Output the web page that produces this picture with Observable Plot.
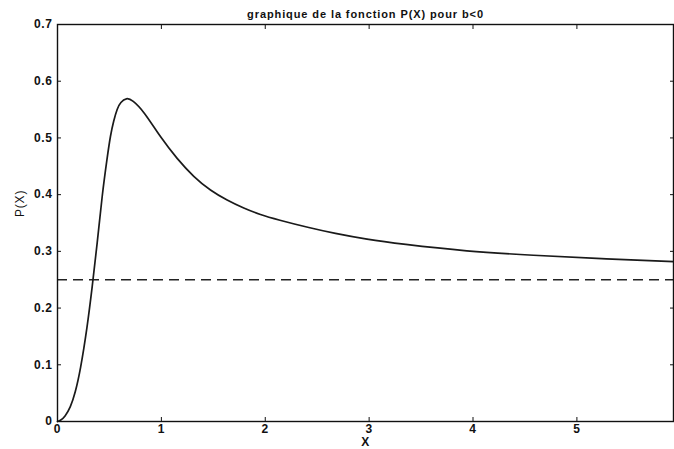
<!DOCTYPE html>
<html>
<head>
<meta charset="utf-8">
<script src="https://cdn.jsdelivr.net/npm/d3@7"></script>
<script src="https://cdn.jsdelivr.net/npm/@observablehq/plot@0.6"></script>
<style>
  html, body { margin: 0; padding: 0; background: #fff; }
  #chart svg { display: block; }
</style>
</head>
<body>
<div id="chart"></div>
<script>
const titleText = "graphique de la fonction P(X) pour b<0";
const xLabel = "X";
const yLabel = "P(X)";
const xTicks = [0, 1, 2, 3, 4, 5];
const yTicks = [0, 0.1, 0.2, 0.3, 0.4, 0.5, 0.6, 0.7];
const xValues = [0, 0.03, 0.07, 0.125, 0.17, 0.22, 0.286, 0.334, 0.382, 0.43, 0.478, 0.51, 0.54, 0.575, 0.606, 0.664, 0.72, 0.831, 0.991, 1.152, 1.312, 1.473, 1.633, 1.793, 1.954, 2.115, 2.435, 2.66, 2.98, 3.30, 3.94, 4.58, 5.23, 5.93];
const pValues = [0, 0.002, 0.008, 0.025, 0.05, 0.09, 0.166, 0.237, 0.313, 0.40, 0.465, 0.505, 0.530, 0.552, 0.563, 0.571, 0.567, 0.547, 0.501, 0.463, 0.431, 0.407, 0.390, 0.376, 0.3645, 0.356, 0.341, 0.332, 0.321, 0.313, 0.300, 0.293, 0.287, 0.282];
const limitValue = 0.25;

const curve = xValues.map((x, i) => ({x, p: pValues[i]}));
const font = "'Liberation Sans', Arial, Helvetica, sans-serif";

const chart = Plot.plot({
  width: 674,
  height: 449,
  marginLeft: 57,
  marginRight: 1,
  marginTop: 24,
  marginBottom: 28,
  style: {fontFamily: font, fontSize: "12px", color: "#111", background: "#fff"},
  x: {domain: [0, 5.93]},
  y: {domain: [0, 0.7]},
  marks: [
    Plot.ruleY([limitValue], {stroke: "#222", strokeWidth: 1.5, strokeDasharray: "10,6"}),
    Plot.line(curve, {x: "x", y: "p", stroke: "#1a1a1a", strokeWidth: 1.7, curve: "basis"}),
    Plot.axisX({ticks: xTicks, tickSize: -4, tickPadding: 7, tickFormat: d3.format("d"), fontWeight: "bold", fontSize: 12, label: null}),
    Plot.axisX({anchor: "top", ticks: xTicks, tickSize: -4, tickFormat: () => "", label: null}),
    Plot.axisY({ticks: yTicks, tickSize: -4, tickPadding: 9, tickFormat: d => d === 0 ? "0" : d3.format(".1f")(d), fontWeight: "bold", fontSize: 12, label: null}),
    Plot.axisY({anchor: "right", ticks: yTicks, tickSize: -4, tickFormat: () => "", label: null}),
    Plot.frame({stroke: "#111", strokeWidth: 1.4}),
    Plot.text([titleText], {frameAnchor: "top", dy: -10, lineAnchor: "middle", fontSize: 11, fontWeight: "bold", fill: "#111"}),
    Plot.text([xLabel], {frameAnchor: "bottom", dy: 21, lineAnchor: "middle", fontSize: 12, fontWeight: "bold", fill: "#111"}),
    Plot.text([yLabel], {frameAnchor: "left", dx: -37, dy: -6, rotate: -90, lineAnchor: "middle", fontSize: 12, fill: "#111"})
  ]
});
document.getElementById("chart").appendChild(chart);
// Wider letter spacing to match the scanned Helvetica look
d3.select(chart).selectAll("text").each(function() {
  const t = this.textContent;
  if (t === titleText) this.setAttribute("letter-spacing", "0.9");
  else if (t === yLabel) this.setAttribute("letter-spacing", "0.8");
  else this.setAttribute("letter-spacing", "0.6");
});
</script>
</body>
</html>
